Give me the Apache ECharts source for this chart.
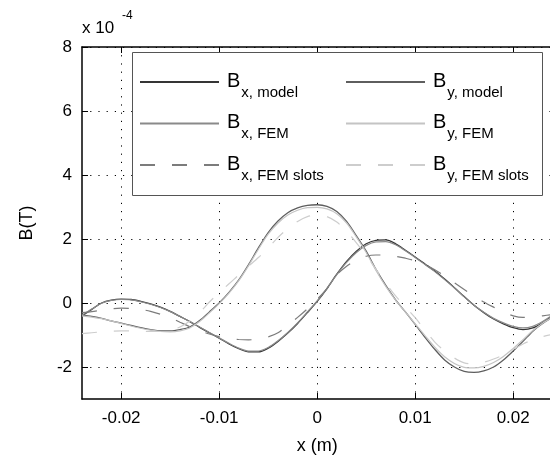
<!DOCTYPE html>
<html><head><meta charset="utf-8">
<script src="https://cdn.jsdelivr.net/npm/echarts@6/dist/echarts.min.js"></script>
<style>html,body{margin:0;padding:0;background:#fff}#c{width:550px;height:458px}</style>
</head><body><div id="c"></div>
<script>
// x positions (m)
const xValues = [-0.024,-0.023,-0.022,-0.021,-0.020,-0.019,-0.018,-0.017,-0.016,-0.015,-0.014,-0.013,-0.012,-0.011,-0.010,-0.009,-0.008,-0.007,-0.006,-0.005,-0.004,-0.003,-0.002,-0.001,0.000,0.001,0.002,0.003,0.004,0.005,0.006,0.007,0.008,0.009,0.010,0.011,0.012,0.013,0.014,0.015,0.016,0.017,0.018,0.019,0.020,0.021,0.022,0.023,0.024];
// field values in units of 1e-4 T
const bxModel = [-0.40,-0.20,0.00,0.09,0.12,0.11,0.05,-0.03,-0.13,-0.26,-0.42,-0.58,-0.76,-0.93,-1.10,-1.28,-1.43,-1.53,-1.53,-1.41,-1.20,-0.94,-0.64,-0.30,0.05,0.45,0.90,1.30,1.62,1.85,1.96,1.97,1.85,1.65,1.44,1.22,1.00,0.75,0.48,0.20,-0.07,-0.30,-0.50,-0.65,-0.77,-0.83,-0.78,-0.62,-0.40];
const byModel = [-0.37,-0.42,-0.48,-0.56,-0.63,-0.70,-0.77,-0.83,-0.87,-0.87,-0.83,-0.75,-0.55,-0.28,0.00,0.33,0.72,1.20,1.72,2.20,2.56,2.82,2.97,3.05,3.07,3.02,2.86,2.55,2.10,1.62,1.05,0.55,0.10,-0.28,-0.67,-1.07,-1.45,-1.78,-2.00,-2.14,-2.17,-2.12,-2.00,-1.78,-1.50,-1.20,-0.88,-0.64,-0.45];
const bxFem = [-0.38,-0.19,-0.01,0.08,0.11,0.10,0.04,-0.04,-0.14,-0.27,-0.42,-0.58,-0.75,-0.92,-1.09,-1.26,-1.41,-1.50,-1.50,-1.39,-1.18,-0.92,-0.62,-0.28,0.07,0.46,0.89,1.27,1.58,1.80,1.91,1.92,1.82,1.63,1.42,1.20,0.98,0.73,0.47,0.19,-0.07,-0.29,-0.48,-0.62,-0.73,-0.78,-0.73,-0.58,-0.38];
const byFem = [-0.40,-0.44,-0.49,-0.56,-0.64,-0.72,-0.79,-0.85,-0.89,-0.90,-0.87,-0.78,-0.58,-0.31,-0.02,0.31,0.70,1.17,1.68,2.15,2.50,2.75,2.90,2.98,2.99,2.94,2.79,2.50,2.06,1.58,1.02,0.52,0.09,-0.28,-0.65,-1.02,-1.38,-1.68,-1.89,-2.01,-2.03,-1.98,-1.86,-1.67,-1.42,-1.15,-0.86,-0.63,-0.45];
const bxFemSlots = [-0.30,-0.27,-0.22,-0.18,-0.16,-0.17,-0.20,-0.26,-0.35,-0.46,-0.60,-0.74,-0.86,-0.97,-1.05,-1.11,-1.14,-1.15,-1.13,-1.06,-0.93,-0.70,-0.45,-0.18,0.12,0.45,0.88,1.15,1.34,1.46,1.50,1.50,1.46,1.40,1.32,1.19,1.04,0.85,0.63,0.42,0.22,0.03,-0.13,-0.28,-0.40,-0.45,-0.44,-0.40,-0.36];
const byFemSlots = [-0.96,-0.93,-0.90,-0.88,-0.87,-0.87,-0.88,-0.89,-0.89,-0.85,-0.75,-0.56,-0.30,0.03,0.33,0.60,0.88,1.15,1.42,1.72,2.05,2.33,2.55,2.70,2.75,2.70,2.53,2.24,1.88,1.48,1.05,0.62,0.22,-0.12,-0.46,-0.85,-1.22,-1.50,-1.72,-1.87,-1.90,-1.85,-1.75,-1.62,-1.45,-1.28,-1.15,-1.05,-0.98];
const xTicks = [-0.02, -0.01, 0, 0.01, 0.02];
const xTickLabels = ['-0.02', '-0.01', '0', '0.01', '0.02'];
const yTicks = [-2, 0, 2, 4, 6, 8];
const yTickLabels = ['-2', '0', '2', '4', '6', '8'];

const FONT = "'Liberation Sans', Arial, Helvetica, sans-serif";
const pairs = arr => xValues.map((x, i) => [x, arr[i]]);
const labelFor = (ticks, labels) => v => {
  for (let i = 0; i < ticks.length; i++) if (Math.abs(ticks[i] - v) < 1e-9) return labels[i];
  return '';
};

const seriesDefs = [
  {name: 'Bx, model', data: bxModel, color: '#353535', type: 'solid', width: 1.3},
  {name: 'By, model', data: byModel, color: '#5e5e5e', type: 'solid', width: 1.3},
  {name: 'Bx, FEM', data: bxFem, color: '#8a8a8a', type: 'solid', width: 1.2},
  {name: 'By, FEM', data: byFem, color: '#c4c4c4', type: 'solid', width: 1.2},
  {name: 'Bx, FEM slots', data: bxFemSlots, color: '#7c7c7c', type: [15, 17], width: 1.2},
  {name: 'By, FEM slots', data: byFemSlots, color: '#cdcdcd', type: [15, 17], width: 1.2}
];

const rich = {
  b: {fontSize: 20, fontFamily: FONT, color: '#000', lineHeight: 22, verticalAlign: 'top', padding: [0, 0, 0, 3]},
  s: {fontSize: 15, fontFamily: FONT, color: '#000', lineHeight: 16, verticalAlign: 'top', padding: [14, 0, 0, 1]}
};
const legendBase = {
  orient: 'vertical',
  itemWidth: 79,
  itemHeight: 12,
  itemGap: 12.5,
  padding: 0,
  selectedMode: false,
  itemStyle: {opacity: 0},
  formatter: n => '{b|B}{s|' + n.slice(1) + '}',
  textStyle: {rich: rich}
};

const chart = echarts.init(document.getElementById('c'), null, {renderer: 'canvas'});
chart.setOption({
  animation: false,
  backgroundColor: '#fff',
  textStyle: {fontFamily: FONT},
  grid: {left: 82, top: 47, width: 470.4, height: 352, containLabel: false, outerBoundsMode: 'none'},
  legend: [
    Object.assign({}, legendBase, {left: 139, top: 71, data: ['Bx, model', 'Bx, FEM', 'Bx, FEM slots']}),
    Object.assign({}, legendBase, {left: 345, top: 71, data: ['By, model', 'By, FEM', 'By, FEM slots']})
  ],
  graphic: [
    {type: 'rect', z: 3, shape: {x: 132.5, y: 52.5, width: 410, height: 143}, style: {fill: '#fff', stroke: '#555', lineWidth: 1}},
    {type: 'text', x: 82, y: 20, z: 5, style: {text: 'x 10', font: '17px ' + FONT, fill: '#000', verticalAlign: 'top'}},
    {type: 'text', x: 122, y: 10, z: 5, style: {text: '-4', font: '12px ' + FONT, fill: '#000', verticalAlign: 'top'}}
  ],
  xAxis: [{
    type: 'value', min: -0.024, max: 0.024,
    name: 'x (m)', nameLocation: 'middle', nameGap: 38,
    nameTextStyle: {fontSize: 18, fontFamily: FONT, color: '#000'},
    axisLine: {show: true, onZero: false, lineStyle: {color: '#000', width: 1.5}},
    axisTick: {show: true, inside: true, length: 6, lineStyle: {color: '#000'}, customValues: xTicks},
    axisLabel: {fontSize: 17, fontFamily: FONT, color: '#000', margin: 11, customValues: xTicks, formatter: labelFor(xTicks, xTickLabels)},
    splitLine: {show: true, lineStyle: {color: '#000', width: 1, type: [1.2, 7]}}
  }, {
    type: 'value', position: 'top', min: -0.024, max: 0.024,
    axisLine: {show: true, onZero: false, lineStyle: {color: '#000', width: 1.5}},
    axisTick: {show: true, inside: true, length: 6, lineStyle: {color: '#000'}, customValues: xTicks},
    axisLabel: {show: false}, splitLine: {show: false}
  }],
  yAxis: {
    type: 'value', min: -3, max: 8,
    name: 'B(T)', nameLocation: 'middle', nameGap: 46, nameRotate: 90,
    nameTextStyle: {fontSize: 18, fontFamily: FONT, color: '#000'},
    axisLine: {show: true, onZero: false, lineStyle: {color: '#000', width: 1.5}},
    axisTick: {show: true, inside: true, length: 6, lineStyle: {color: '#000'}, customValues: yTicks},
    axisLabel: {fontSize: 17, fontFamily: FONT, color: '#000', margin: 10, customValues: yTicks, formatter: labelFor(yTicks, yTickLabels)},
    splitLine: {show: true, lineStyle: {color: '#000', width: 1, type: [1.2, 7]}}
  },
  series: seriesDefs.map(d => ({
    name: d.name, type: 'line', data: pairs(d.data), smooth: 0.3, showSymbol: false, symbol: 'none',
    clip: true, z: 2,
    lineStyle: {color: d.color, width: d.width, type: d.type},
    itemStyle: {color: d.color}
  }))
});
</script></body></html>
